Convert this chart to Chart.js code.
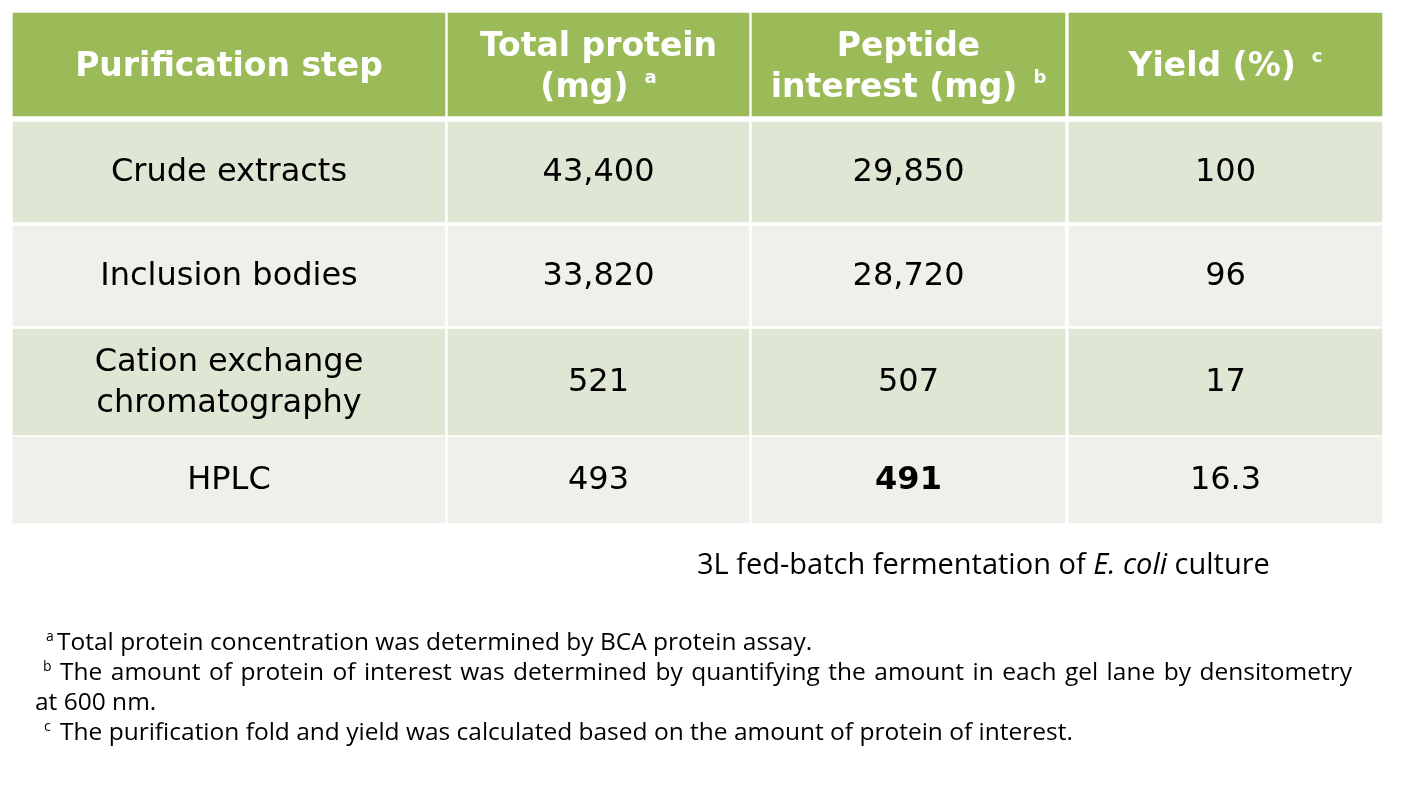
<!DOCTYPE html>
<html>
<head>
<meta charset="utf-8">
<script src="https://cdn.jsdelivr.net/npm/chart.js@4.4.1/dist/chart.umd.min.js"></script>
<style>
  html, body { margin: 0; padding: 0; background: #ffffff; }
  #wrap { width: 1425px; height: 807px; position: relative; }
</style>
</head>
<body>
<div id="wrap"><canvas id="c" width="1425" height="807"></canvas></div>
<script>
// ---------------- data ----------------
const headerLines = [['Purification step'], ['Total protein', '(mg)'], ['Peptide', 'interest (mg)'], ['Yield (%)']];
const headerNotes = ['', 'a', 'b', 'c'];
const steps = ['Crude extracts', 'Inclusion bodies', 'Cation exchange\nchromatography', 'HPLC'];
const totalProtein = [43400, 33820, 521, 493];
const peptideInterest = [29850, 28720, 507, 491];
const yieldPct = ['100', '96', '17', '16.3'];
const boldCells = [[3, 2]]; // [row, column] shown in bold
const caption = ['3L fed-batch fermentation of ', 'E. coli', ' culture'];
const footnotes = [
  { sup: 'a', text: 'Total protein concentration was determined by BCA protein assay.' },
  { sup: 'b', text: 'The amount of protein of interest was determined by quantifying the amount in each gel lane by   densitometry', justify: true },
  { sup: '', text: 'at 600 nm.' },
  { sup: 'c', text: 'The purification fold and yield was calculated based on the amount of protein of interest.' }
];

// ---------------- layout (not data) ----------------
const colSpans = [[13, 445], [448, 749], [752, 1065], [1069, 1382]];
const rowSpans = [[13, 116], [122, 222], [226, 326], [329, 435], [437, 523]];
const rowColors = ['#9bbb59', '#dfe6d3', '#eff0ea', '#dfe6d3', '#eff0ea'];
const bodyFont = '"DejaVu Sans", Verdana, sans-serif';
const noteFont = '"Open Sans", "Noto Sans", sans-serif';

const fmt = v => typeof v === 'number' ? v.toLocaleString('en-US') : v;
const bodyRows = steps.map((s, i) => [s, fmt(totalProtein[i]), fmt(peptideInterest[i]), fmt(yieldPct[i])]);

const datasets = rowSpans.map((rs, r) => ({
  label: r === 0 ? 'header' : steps[r - 1],
  data: colSpans.map(cs => ({ x: [cs[0], cs[1]], y: (rs[0] + rs[1]) / 2 })),
  backgroundColor: rowColors[r],
  borderWidth: 0,
  barThickness: rs[1] - rs[0],
  grouped: false
}));

const tablePlugin = {
  id: 'tableText',
  afterDatasetsDraw(chart) {
    const ctx = chart.ctx;
    ctx.save();
    ctx.textBaseline = 'middle';
    chart.data.datasets.forEach((ds, r) => {
      const meta = chart.getDatasetMeta(r);
      meta.data.forEach((el, c) => {
        const p = el.getProps(['x', 'y', 'base'], true);
        const cx = (p.x + p.base) / 2, cy = p.y;
        if (r === 0) {
          const lines = headerLines[c];
          const lh = 41;
          lines.forEach((ln, k) => {
            const y = cy + (k - (lines.length - 1) / 2) * lh + 3;
            ctx.fillStyle = '#ffffff';
            ctx.font = 'bold 33px ' + bodyFont;
            const isLast = k === lines.length - 1;
            const note = isLast ? headerNotes[c] : '';
            const w = ctx.measureText(ln).width;
            ctx.font = 'bold 18px ' + bodyFont;
            const sw = note ? ctx.measureText(note).width + 16 : 0;
            let x0 = cx - (w + sw) / 2;
            ctx.font = 'bold 33px ' + bodyFont;
            ctx.textAlign = 'left';
            ctx.fillText(ln, x0, y);
            if (note) {
              ctx.font = 'bold 18px ' + bodyFont;
              ctx.fillText(note, x0 + w + 16, y - 10);
            }
          });
        } else {
          const txt = String(bodyRows[r - 1][c]);
          const lines = txt.split('\n');
          const bold = boldCells.some(b => b[0] === r - 1 && b[1] === c);
          ctx.fillStyle = '#000000';
          ctx.font = (bold ? 'bold ' : '') + '32px ' + bodyFont;
          ctx.textAlign = 'center';
          const lh = 41;
          lines.forEach((ln, k) => {
            const y = cy + (k - (lines.length - 1) / 2) * lh + 1;
            ctx.fillText(ln, cx, y);
          });
        }
      });
    });

    // caption
    ctx.textAlign = 'left';
    ctx.fillStyle = '#000000';
    let x = 697;
    caption.forEach((seg, i) => {
      ctx.font = (i === 1 ? 'italic ' : '') + '29px ' + noteFont;
      ctx.fillText(seg, x, 566);
      x += ctx.measureText(seg).width;
    });

    // footnotes
    const ys = [643, 673, 703, 733];
    const starts = [57, 60, 35, 60];
    const supX = [46, 43, 0, 44];
    footnotes.forEach((fn, i) => {
      if (fn.sup) {
        ctx.font = '14px ' + noteFont;
        ctx.fillText(fn.sup, supX[i], ys[i] - 6);
      }
      ctx.font = '24.5px ' + noteFont;
      if (fn.justify) {
        const words = fn.text.split(/\s+/);
        const total = words.reduce((a, w) => a + ctx.measureText(w).width, 0);
        const right = 1352;
        const gap = (right - starts[i] - total) / (words.length - 1);
        let xx = starts[i];
        words.forEach(w => { ctx.fillText(w, xx, ys[i]); xx += ctx.measureText(w).width + gap; });
      } else {
        ctx.fillText(fn.text, starts[i], ys[i]);
      }
    });
    ctx.restore();
  }
};

new Chart(document.getElementById('c'), {
  type: 'bar',
  data: { datasets },
  options: {
    indexAxis: 'y',
    responsive: false,
    animation: false,
    layout: { padding: 0 },
    plugins: { legend: { display: false }, tooltip: { enabled: false } },
    scales: {
      x: { type: 'linear', min: 0, max: 1425, display: false, offset: false },
      y: { type: 'linear', min: 0, max: 807, reverse: true, display: false, offset: false }
    }
  },
  plugins: [tablePlugin]
});
</script>
</body>
</html>
